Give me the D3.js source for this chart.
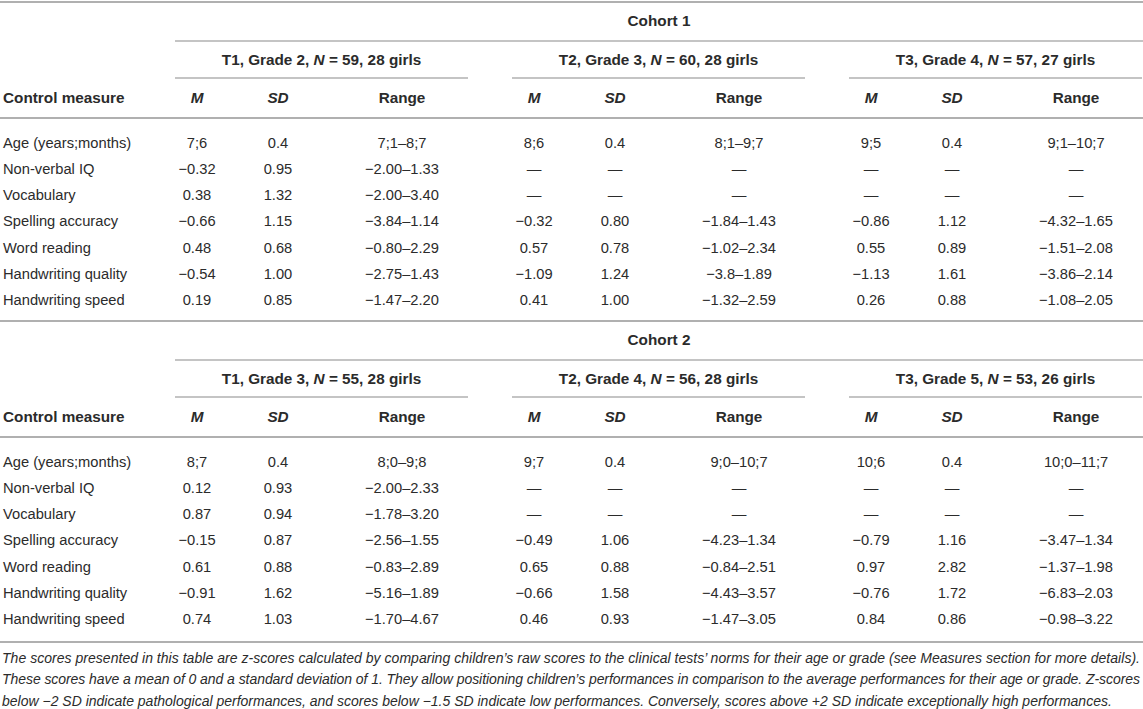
<!DOCTYPE html>
<html>
<head>
<meta charset="utf-8">
<script src="https://cdn.jsdelivr.net/npm/d3@7"></script>
<style>
  body { margin: 0; background: #fff; }
  text { font-family: "Liberation Sans", Arial, Helvetica, sans-serif; fill: #2b2b2b; }
</style>
</head>
<body>
<div id="table"></div>
<script>
var width = 1143, height = 709;

// Row labels
var measures = ["Age (years;months)", "Non-verbal IQ", "Vocabulary", "Spelling accuracy",
                "Word reading", "Handwriting quality", "Handwriting speed"];
var colHeads = ["M", "SD", "Range"];

// Cohort 1
var cohort1Groups = [
  { time: "T1", grade: 2, n: 59, girls: 28 },
  { time: "T2", grade: 3, n: 60, girls: 28 },
  { time: "T3", grade: 4, n: 57, girls: 27 }
];
var cohort1M = [
  ["7;6", "−0.32", "0.38", "−0.66", "0.48", "−0.54", "0.19"],
  ["8;6", "—", "—", "−0.32", "0.57", "−1.09", "0.41"],
  ["9;5", "—", "—", "−0.86", "0.55", "−1.13", "0.26"]
];
var cohort1SD = [
  ["0.4", "0.95", "1.32", "1.15", "0.68", "1.00", "0.85"],
  ["0.4", "—", "—", "0.80", "0.78", "1.24", "1.00"],
  ["0.4", "—", "—", "1.12", "0.89", "1.61", "0.88"]
];
var cohort1Range = [
  ["7;1–8;7", "−2.00–1.33", "−2.00–3.40", "−3.84–1.14", "−0.80–2.29", "−2.75–1.43", "−1.47–2.20"],
  ["8;1–9;7", "—", "—", "−1.84–1.43", "−1.02–2.34", "−3.8–1.89", "−1.32–2.59"],
  ["9;1–10;7", "—", "—", "−4.32–1.65", "−1.51–2.08", "−3.86–2.14", "−1.08–2.05"]
];

// Cohort 2
var cohort2Groups = [
  { time: "T1", grade: 3, n: 55, girls: 28 },
  { time: "T2", grade: 4, n: 56, girls: 28 },
  { time: "T3", grade: 5, n: 53, girls: 26 }
];
var cohort2M = [
  ["8;7", "0.12", "0.87", "−0.15", "0.61", "−0.91", "0.74"],
  ["9;7", "—", "—", "−0.49", "0.65", "−0.66", "0.46"],
  ["10;6", "—", "—", "−0.79", "0.97", "−0.76", "0.84"]
];
var cohort2SD = [
  ["0.4", "0.93", "0.94", "0.87", "0.88", "1.62", "1.03"],
  ["0.4", "—", "—", "1.06", "0.88", "1.58", "0.93"],
  ["0.4", "—", "—", "1.16", "2.82", "1.72", "0.86"]
];
var cohort2Range = [
  ["8;0–9;8", "−2.00–2.33", "−1.78–3.20", "−2.56–1.55", "−0.83–2.89", "−5.16–1.89", "−1.70–4.67"],
  ["9;0–10;7", "—", "—", "−4.23–1.34", "−0.84–2.51", "−4.43–3.57", "−1.47–3.05"],
  ["10;0–11;7", "—", "—", "−3.47–1.34", "−1.37–1.98", "−6.83–2.03", "−0.98–3.22"]
];

var footnote = [
  "The scores presented in this table are z-scores calculated by comparing children’s raw scores to the clinical tests’ norms for their age or grade (see Measures section for more details).",
  "These scores have a mean of 0 and a standard deviation of 1. They allow positioning children’s performances in comparison to the average performances for their age or grade. Z-scores",
  "below −2 SD indicate pathological performances, and scores below −1.5 SD indicate low performances. Conversely, scores above +2 SD indicate exceptionally high performances."
];

var cohorts = [
  { name: "Cohort 1", groups: cohort1Groups, M: cohort1M, SD: cohort1SD, Range: cohort1Range, top: 2 },
  { name: "Cohort 2", groups: cohort2Groups, M: cohort2M, SD: cohort2SD, Range: cohort2Range, top: 321 }
];

var svg = d3.select("#table")
            .append("svg")
            .attr("width", width)
            .attr("height", height);

// group start positions and column offsets inside a group
var groupX = d3.scaleLinear().domain([0, 1]).range([175, 512]);
var groupW = 293;
var colX = d3.scaleOrdinal().domain(colHeads).range([22, 103, 227]);
var rowY = d3.scaleLinear().domain([0, 1]).range([0, 26.1]);

var ruleColor = "#b0b0b0";
var fs = "14.7px", fsBold = "15.3px";

function hline(x1, x2, y, w) {
  svg.append("line")
     .attr("x1", x1).attr("x2", x2)
     .attr("y1", y).attr("y2", y)
     .attr("stroke", ruleColor)
     .attr("stroke-width", w || 1.6);
}

cohorts.forEach(function(c) {
  var t = c.top;
  hline(0, width, t, 2);

  // cohort title
  svg.append("text")
     .attr("x", (groupX(0) + width) / 2)
     .attr("y", t + 19)
     .attr("dy", "0.35em")
     .attr("text-anchor", "middle")
     .style("font-size", fsBold)
     .style("font-weight", "bold")
     .text(c.name);
  hline(groupX(0), width, t + 39);

  // group titles
  c.groups.forEach(function(g, i) {
    var gx = groupX(i);
    var txt = svg.append("text")
       .attr("x", gx + groupW / 2)
       .attr("y", t + 58)
       .attr("dy", "0.35em")
       .attr("text-anchor", "middle")
       .style("font-size", fsBold)
       .style("font-weight", "bold");
    txt.append("tspan").text(g.time + ", Grade " + g.grade + ", ");
    txt.append("tspan").style("font-style", "italic").text("N");
    txt.append("tspan").text(" = " + g.n + ", " + g.girls + " girls");
    hline(gx, gx + groupW, t + 76);

    colHeads.forEach(function(h) {
      svg.append("text")
         .attr("x", gx + colX(h))
         .attr("y", t + 96)
         .attr("dy", "0.35em")
         .attr("text-anchor", "middle")
         .style("font-size", fsBold)
         .style("font-weight", "bold")
         .style("font-style", h === "Range" ? "normal" : "italic")
         .text(h);

      svg.selectAll(null)
         .data(c[h][i])
         .enter()
         .append("text")
         .attr("x", gx + colX(h))
         .attr("y", function(d, r) { return t + 141 + rowY(r); })
         .attr("dy", "0.35em")
         .attr("text-anchor", "middle")
         .style("font-size", fs)
         .text(function(d) { return d; });
    });
  });

  svg.append("text")
     .attr("x", 3)
     .attr("y", t + 96)
     .attr("dy", "0.35em")
     .style("font-size", fsBold)
     .style("font-weight", "bold")
     .text("Control measure");
  hline(0, width, t + 116, 2);

  svg.selectAll(null)
     .data(measures)
     .enter()
     .append("text")
     .attr("x", 3)
     .attr("y", function(d, r) { return t + 141 + rowY(r); })
     .attr("dy", "0.35em")
     .style("font-size", fs)
     .text(function(d) { return d; });
});

hline(0, width, 642, 2);

// footnote, justified except last line
svg.selectAll(".note")
   .data(footnote)
   .enter()
   .append("text")
   .attr("class", "note")
   .attr("x", 2)
   .attr("y", function(d, i) { return 658 + i * 21.3; })
   .attr("dy", "0.35em")
   .style("font-size", "14px")
   .style("font-style", "italic")
   .each(function(d, i) {
     if (i < footnote.length - 1) {
       d3.select(this).attr("textLength", 1138).attr("lengthAdjust", "spacing");
     }
   })
   .text(function(d) { return d; });
</script>
</body>
</html>
